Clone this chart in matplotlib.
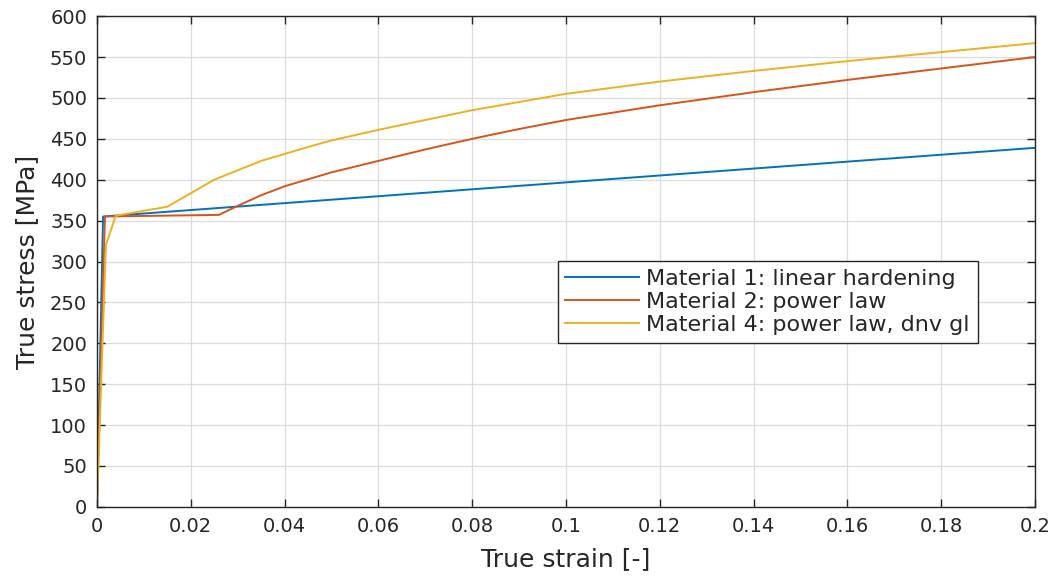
import matplotlib
matplotlib.use("Agg")
import matplotlib.pyplot as plt

plt.rcParams['font.family'] = ['DejaVu Sans']

# Material 1: linear hardening
strain1 = [0, 0.0013, 0.2]
stress1 = [0, 355, 439]

# Material 2: power law
strain2 = [0, 0.0017, 0.026, 0.03, 0.035, 0.04, 0.05, 0.06, 0.07, 0.08, 0.09, 0.1,
           0.12, 0.14, 0.16, 0.18, 0.2]
stress2 = [0, 355, 357, 368, 381, 392, 409, 423, 437, 450, 462, 473,
           491, 507, 522, 536, 550]

# Material 4: power law, dnv gl
strain4 = [0, 0.0019, 0.004, 0.015, 0.025, 0.035, 0.045, 0.05, 0.06, 0.07, 0.08, 0.09, 0.1,
           0.12, 0.14, 0.16, 0.18, 0.2]
stress4 = [0, 320, 356, 367, 400, 423, 440, 448, 461, 473, 485, 495, 505,
           520, 533, 545, 556, 567]

labels = ['Material 1: linear hardening', 'Material 2: power law',
          'Material 4: power law, dnv gl']
colors = ['#0072BD', '#D95319', '#EDB120']

fig = plt.figure(figsize=(10.54, 5.76), dpi=100)
ax = fig.add_axes([0.092, 0.120, 0.890, 0.852])

ax.plot(strain1, stress1, color=colors[0], lw=1.4, label=labels[0])
ax.plot(strain2, stress2, color=colors[1], lw=1.4, label=labels[1])
ax.plot(strain4, stress4, color=colors[2], lw=1.4, label=labels[2])

ax.set_xlim(0, 0.2)
ax.set_ylim(0, 600)
ax.set_xticks([0, 0.02, 0.04, 0.06, 0.08, 0.1, 0.12, 0.14, 0.16, 0.18, 0.2])
ax.set_xticklabels(['0', '0.02', '0.04', '0.06', '0.08', '0.1', '0.12', '0.14',
                    '0.16', '0.18', '0.2'])
ax.set_yticks(range(0, 601, 50))

ax.grid(True, color='#dcdcdc', lw=0.9)
ax.set_axisbelow(True)
ax.tick_params(direction='in', length=6, width=1, colors='#262626', labelsize=14,
               top=True, right=True, pad=7)
for sp in ax.spines.values():
    sp.set_color('#262626')
    sp.set_linewidth(1)

ax.set_xlabel('True strain [-]', fontsize=18, color='#262626', labelpad=8)
ax.set_ylabel('True stress [MPa]', fontsize=18, color='#262626', labelpad=8)

leg = ax.legend(loc='lower left', bbox_to_anchor=(0.491, 0.334), fontsize=16,
                fancybox=False, framealpha=1, edgecolor='#262626',
                handlelength=3.3, borderpad=0.35, labelspacing=0.15, handletextpad=0.35,
                borderaxespad=0)
leg.get_frame().set_linewidth(1)
for t in leg.get_texts():
    t.set_color('#262626')

fig.savefig('out.png', dpi=100)
